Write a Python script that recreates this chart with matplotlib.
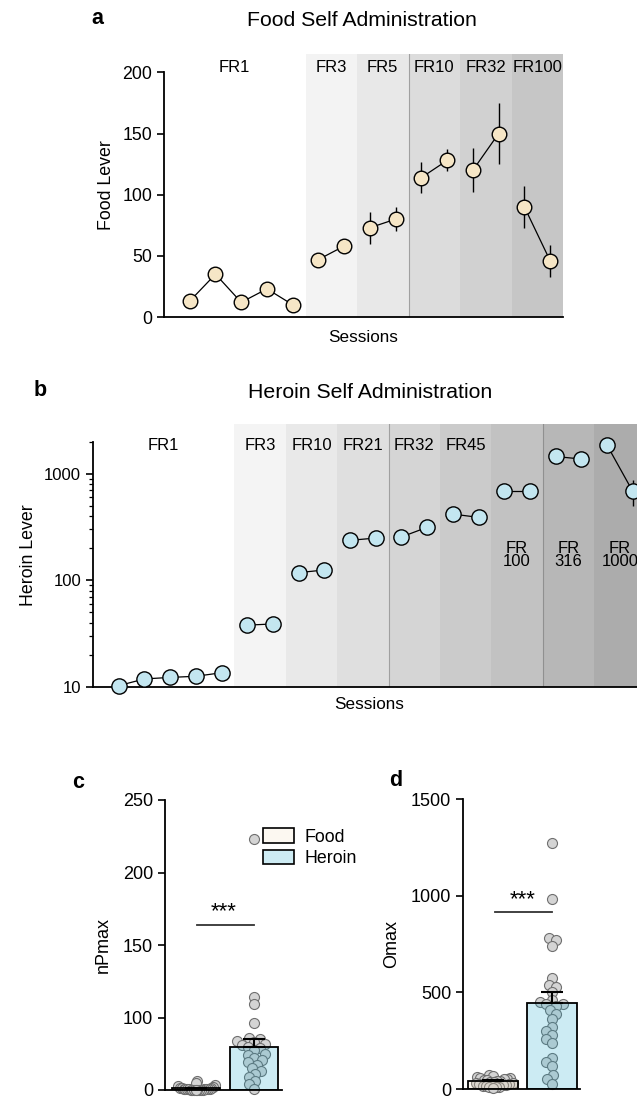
import numpy as np
import matplotlib
matplotlib.use('Agg')
import matplotlib.pyplot as plt
from matplotlib.patches import Patch

plt.rcParams['font.family'] = ['Liberation Sans', 'DejaVu Sans']
plt.rcParams['axes.linewidth'] = 1.3

# ---------------- data ----------------
# Panel a: food self administration
food_blocks = ['FR1', 'FR3', 'FR5', 'FR10', 'FR32', 'FR100']
food_block_sizes = [5, 2, 2, 2, 2, 2]
food_mean = [13, 35, 12, 23, 10, 47, 58, 73, 80, 114, 128, 120, 150, 90, 46]
food_sem = [0, 0, 0, 0, 0, 2, 2, 13, 10, 13, 9, 18, 25, 17, 13]
food_band_colors = ['#ffffff', '#f3f3f3', '#e8e8e8', '#dcdcdc', '#d1d1d1', '#c6c6c6']

# Panel b: heroin self administration
heroin_blocks = ['FR1', 'FR3', 'FR10', 'FR21', 'FR32', 'FR45', 'FR\n100', 'FR\n316', 'FR\n1000']
heroin_block_sizes = [5, 2, 2, 2, 2, 2, 2, 2, 2]
heroin_mean = [10.3, 11.9, 12.3, 12.6, 13.6, 38, 39, 118, 125, 237, 249,
               255, 314, 418, 389, 692, 692, 1448, 1371, 1852, 683]
heroin_sem = [0] * 20 + [190]
heroin_band_colors = ['#ffffff', '#f4f4f4', '#e9e9e9', '#dfdfdf', '#d5d5d5',
                      '#cbcbcb', '#c2c2c2', '#b7b7b7', '#acacac']

# Panel c: nPmax
groups = ['Food', 'Heroin']
npmax_food = [12, 9, 7, 5, 4, 3, 3, 2.5, 2, 2, 1.5, 1.5, 1, 1, 1, 0.8, 0.6,
              0.5, 0.4, 0.3, 0.2, 0.1, 0.1, 0]
npmax_heroin = [223, 114, 109, 93, 72, 70, 68, 66, 64, 62, 60, 58, 55, 50,
                48, 44, 42, 38, 35, 30, 26, 22, 18, 12, 8, 2]
npmax_mean = [2.5, 59]
npmax_sem = [0.6, 12]

# Panel d: Omax
omax_food = [70, 66, 62, 58, 55, 52, 50, 48, 45, 42, 40, 38, 35, 32, 30, 28,
             25, 22, 20, 18, 15, 12, 10, 8, 5]
omax_heroin = [1270, 985, 780, 770, 740, 575, 540, 530, 500, 460, 450, 440,
               440, 430, 410, 390, 360, 320, 300, 280, 260, 240, 160, 140,
               120, 70, 50, 25]
omax_mean = [40, 445]
omax_sem = [4, 55]

FOOD_DOT = '#f6e6c6'
HEROIN_DOT = '#c3e6f0'

W, H = 637, 1100
fig = plt.figure(figsize=(W / 100, H / 100), dpi=100)


def ax_px(left, top, right, bottom):
    return fig.add_axes([left / W, 1 - bottom / H, (right - left) / W, (bottom - top) / H])


def session_plot(ax, blocks, sizes, means, sems, colors, dotcolor, ms):
    start = 1
    for bi, (name, n, col) in enumerate(zip(blocks, sizes, colors)):
        xs = np.arange(start, start + n)
        ax.axvspan(start - 0.5, start + n - 0.5, color=col, zorder=0, lw=0)
        m = means[start - 1:start - 1 + n]
        e = sems[start - 1:start - 1 + n]
        ax.errorbar(xs, m, yerr=e, fmt='none', ecolor='k', elinewidth=1.0, zorder=2)
        ax.plot(xs, m, '-', color='k', lw=0.9, zorder=3)
        ax.plot(xs, m, 'o', ms=ms, mfc=dotcolor, mec='k', mew=1.0, zorder=4,
                clip_on=False)
        start += n


def label_centers(sizes):
    centers = []
    start = 1
    for i, n in enumerate(sizes):
        lo = 0 if i == 0 else start - 0.5
        centers.append((lo + start + n - 0.5) / 2)
        start += n
    return centers


# ---------------- panel a ----------------
axa = ax_px(164, 54, 563, 317)
session_plot(axa, food_blocks, food_block_sizes, food_mean, food_sem,
             food_band_colors, FOOD_DOT, 10.5)
axa.set_xlim(0, 15.5)
axa.set_ylim(0, 215)
axa.axvline(9.5, color='#a0a0a0', lw=0.8, zorder=1)
axa.spines['top'].set_visible(False)
axa.spines['right'].set_visible(False)
axa.spines['left'].set_bounds(0, 200)
axa.set_yticks([0, 50, 100, 150, 200])
axa.set_xticks([])
axa.tick_params(axis='y', labelsize=12.8, length=5, width=1.2)
axa.set_ylabel('Food Lever', fontsize=12.8, labelpad=5)
axa.set_xlabel('Sessions', fontsize=12.3, labelpad=9)
for name, xc in zip(food_blocks, label_centers(food_block_sizes)):
    axa.text(xc, 204, name, ha='center', va='center', fontsize=12)
fig.text(362 / W, 1 - 20 / H, 'Food Self Administration', ha='center', va='center', fontsize=15.3)
fig.text(97 / W, 1 - 18 / H, 'a', ha='center', va='center', fontsize=15.5, fontweight='bold')

# ---------------- panel b ----------------
axb = ax_px(93, 424, 93 + 21.5 * 25.7, 687)
session_plot(axb, heroin_blocks, heroin_block_sizes, heroin_mean, heroin_sem,
             heroin_band_colors, HEROIN_DOT, 11)
axb.set_yscale('log')
axb.set_xlim(0, 21.5)
axb.set_ylim(10, 2920)
axb.axvline(11.5, color='#a0a0a0', lw=0.8, zorder=1)
axb.axvline(17.5, color='#909090', lw=0.8, zorder=1)
axb.spines['top'].set_visible(False)
axb.spines['right'].set_visible(False)
axb.spines['left'].set_bounds(10, 2000)
axb.set_yticks([10, 100, 1000])
axb.set_yticklabels(['10', '100', '1000'])
axb.set_xticks([])
axb.tick_params(axis='y', which='major', labelsize=12, length=5, width=1.2)
axb.tick_params(axis='y', which='minor', length=3, width=0.9)
axb.set_ylabel('Heroin Lever', fontsize=12.8, labelpad=5)
axb.set_xlabel('Sessions', fontsize=12.3, labelpad=7)
for name, xc in zip(heroin_blocks, label_centers(heroin_block_sizes)):
    if '\n' in name:
        axb.text(xc, 172, name, ha='center', va='center', fontsize=12, linespacing=0.85)
    else:
        axb.text(xc, 1850, name, ha='center', va='center', fontsize=12)
fig.text(370 / W, 1 - 392 / H, 'Heroin Self Administration', ha='center', va='center', fontsize=15.3)
fig.text(40 / W, 1 - 390 / H, 'b', ha='center', va='center', fontsize=15.5, fontweight='bold')


# ---------------- panels c, d ----------------
def swarm_x(ax, xc, vals, diam, maxw):
    vals = np.asarray(vals, float)
    pts = ax.transData.transform(np.column_stack([np.full(len(vals), xc), vals]))
    xc_px = pts[0, 0]
    ypx = pts[:, 1]
    order = np.argsort(ypx)
    placed = []
    off = np.zeros(len(vals))
    for i in order:
        y = ypx[i]
        cands = [0.0]
        for px, py in placed:
            dy = y - py
            if abs(dy) < diam:
                dx = np.sqrt(diam ** 2 - dy ** 2)
                cands += [px - xc_px + dx, px - xc_px - dx]
        cands = sorted(set(cands), key=abs)
        best = cands[-1]
        for c in cands:
            if all((xc_px + c - px) ** 2 + (y - py) ** 2 >= diam ** 2 - 1e-6 for px, py in placed):
                best = c
                break
        placed.append((xc_px + best, y))
        off[i] = best
    m = np.abs(off).max()
    if m > maxw:
        off = off * maxw / m
    back = ax.transData.inverted().transform(np.column_stack([xc_px + off, ypx]))
    return back[:, 0]


FOOD_BAR = (0.95, 0.86, 0.72, 0.22)
HEROIN_BAR = (0.10, 0.66, 0.80, 0.22)


def bar_panel(ax, food_vals, heroin_vals, means, sems, width, capsize, diams, maxws):
    ax.bar([0, 1], means, width=width, color=[FOOD_BAR, HEROIN_BAR],
           edgecolor='k', linewidth=1.3, zorder=3)
    for xc, vals, d, mw in zip([0, 1], [food_vals, heroin_vals], diams, maxws):
        xs = swarm_x(ax, xc, vals, d, mw)
        ax.scatter(xs, vals, s=52, facecolor='#d4d4d4', edgecolor='#6f6f6f',
                   linewidth=0.8, zorder=2, clip_on=False)
    ax.errorbar([0, 1], means, yerr=[[0, 0], sems], fmt='none', ecolor='k',
                elinewidth=1.5, capsize=capsize, capthick=1.5, zorder=4)
    ax.spines['top'].set_visible(False)
    ax.spines['right'].set_visible(False)
    ax.set_xticks([])
    ax.tick_params(axis='y', labelsize=13, length=5, width=1.2)


def fwd(y):
    y = np.asarray(y, float)
    return np.where(y <= 100, y / 2.0, y - 50.0)


def inv(t):
    t = np.asarray(t, float)
    return np.where(t <= 50, t * 2.0, t + 50.0)


axc = ax_px(165, 800, 165 + 2.01 * 58, 1090)
axc.set_yscale('function', functions=(fwd, inv))
axc.set_xlim(-0.53, 1.48)
axc.set_ylim(0, 250)
axc.set_yticks([0, 100, 150, 200, 250])
axc.set_yticklabels(['0', '100', '150', '200', '250'])
bar_panel(axc, npmax_food, npmax_heroin, npmax_mean, npmax_sem, 0.83, 8,
          diams=[6, 7], maxws=[19, 17])
axc.set_ylabel('nPmax', fontsize=13, labelpad=8)
axc.plot([0.02, 1.0], [164, 164], color='#333333', lw=1.3)
axc.text(0.48, 166, '***', ha='center', va='bottom', fontsize=16)

axd = ax_px(463, 799, 463 + 1.97 * 59.5, 1089)
axd.set_xlim(-0.5, 1.47)
axd.set_ylim(0, 1500)
axd.set_yticks([0, 500, 1000, 1500])
bar_panel(axd, omax_food, omax_heroin, omax_mean, omax_sem, 0.84, 8,
          diams=[6, 7], maxws=[20, 18])
axd.set_ylabel('Omax', fontsize=13, labelpad=8)
axd.plot([0.03, 1.0], [917, 917], color='#333333', lw=1.3)
axd.text(0.5, 925, '***', ha='center', va='bottom', fontsize=16)

fig.text(78 / W, 1 - 783 / H, 'c', ha='center', va='center', fontsize=15.5, fontweight='bold')
fig.text(396 / W, 1 - 780 / H, 'd', ha='center', va='center', fontsize=15.5, fontweight='bold')

handles = [Patch(facecolor='#fcf8f1', edgecolor='k', linewidth=1.2),
           Patch(facecolor='#cdebf3', edgecolor='k', linewidth=1.2)]
fig.legend(handles, groups, loc='upper left', bbox_to_anchor=(251 / W, 1 - 816 / H),
           frameon=False, fontsize=12.8, handlelength=1.7, handleheight=0.9,
           handletextpad=0.6, labelspacing=0.2, borderpad=0.2)

fig.savefig('out.png', dpi=100)
